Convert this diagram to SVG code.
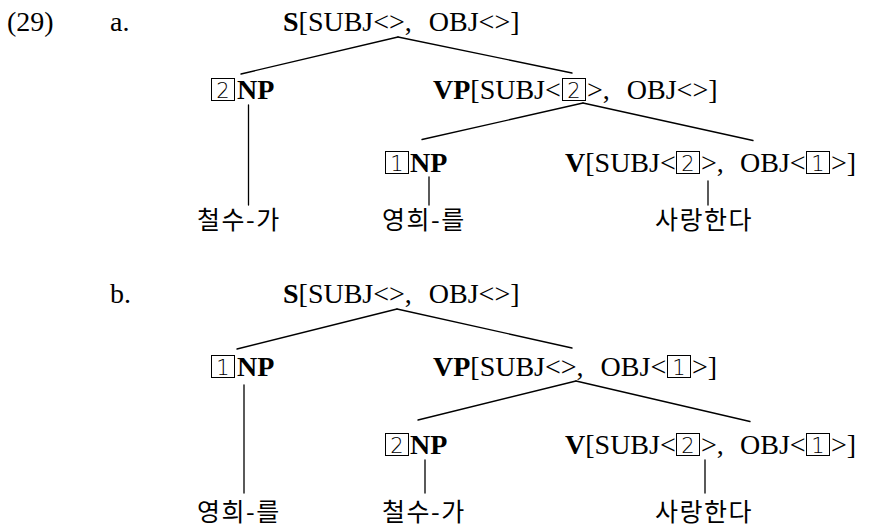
<svg xmlns="http://www.w3.org/2000/svg" width="869" height="529" viewBox="0 0 869 529">
<style>
.t{font-family:"Liberation Serif","Times New Roman",serif;font-size:28px;fill:#000}
.b{font-weight:bold}
.k{font-family:"Noto Sans CJK KR","Noto Sans CJK JP",sans-serif;font-size:25px;letter-spacing:1.5px;fill:#000}
.bx{fill:none;stroke:#000;stroke-width:1}
.d{font-family:"DejaVu Sans","Liberation Sans",sans-serif;font-weight:200;font-size:21px;text-anchor:middle;fill:#000}
.ln{stroke:#000;stroke-width:1.3;fill:none;stroke-linecap:round}
</style>
<rect width="869" height="529" fill="#fff"/>
<text class="t" x="7" y="31" font-size="27">(29)</text>
<text class="t" x="110" y="31">a.</text>
<text class="t" x="110" y="303">b.</text>

<g id="connectors">
  <line class="ln" x1="398" y1="37" x2="241" y2="74"/>
  <line class="ln" x1="398" y1="37" x2="572" y2="73"/>
  <line class="ln" x1="583" y1="103" x2="422" y2="139.5"/>
  <line class="ln" x1="583" y1="103" x2="753" y2="140.5"/>
  <line class="ln" x1="248.5" y1="105" x2="248.5" y2="205"/>
  <line class="ln" x1="429" y1="177" x2="429" y2="205"/>
  <line class="ln" x1="708" y1="181" x2="708" y2="205"/>
  <line class="ln" x1="397" y1="309" x2="237" y2="349"/>
  <line class="ln" x1="397" y1="309" x2="572" y2="348"/>
  <line class="ln" x1="576" y1="381" x2="418" y2="420"/>
  <line class="ln" x1="576" y1="381" x2="750" y2="421.5"/>
  <line class="ln" x1="244" y1="385" x2="244" y2="493"/>
  <line class="ln" x1="425" y1="460" x2="425" y2="493"/>
  <line class="ln" x1="705" y1="460" x2="705" y2="493"/>
</g>

<!-- tree a -->
<g id="a-S">
  <text class="t" x="283" y="31"><tspan class="b">S</tspan>[SUBJ&lt;&gt;,</text>
  <text class="t" x="428.8" y="31">OBJ&lt;&gt;]</text>
</g>
<g id="a-NP2">
  <rect class="bx" x="211.5" y="78.5" width="23" height="22"/>
  <text class="d" x="223" y="97.5">2</text>
  <text class="t b" x="237" y="99">NP</text>
</g>
<g id="a-VP">
  <text class="t" x="433" y="99"><tspan class="b">VP</tspan>[SUBJ&lt;</text>
  <rect class="bx" x="562.5" y="78.5" width="23" height="22"/>
  <text class="d" x="574" y="97.5">2</text>
  <text class="t" x="587" y="99">&gt;,</text>
  <text class="t" x="626.8" y="99">OBJ&lt;&gt;]</text>
</g>
<g id="a-NP1">
  <rect class="bx" x="385.5" y="151.5" width="23" height="22"/>
  <text class="d" x="397" y="170.5">1</text>
  <text class="t b" x="410" y="172">NP</text>
</g>
<g id="a-V">
  <text class="t" x="565" y="172"><tspan class="b">V</tspan>[SUBJ&lt;</text>
  <rect class="bx" x="676.5" y="151.5" width="23" height="22"/>
  <text class="d" x="688" y="170.5">2</text>
  <text class="t" x="701" y="172">&gt;,</text>
  <text class="t" x="740" y="172">OBJ&lt;</text>
  <rect class="bx" x="806.5" y="151.5" width="23" height="22"/>
  <text class="d" x="818" y="170.5">1</text>
  <text class="t" x="831" y="172">&gt;]</text>
</g>
<g id="a-w1"><text class="k" x="197" y="229">철수-가</text></g>
<g id="a-w2"><text class="k" x="382" y="229">영희-를</text></g>
<g id="a-w3"><text class="k" x="655" y="229">사랑한다</text></g>

<!-- tree b -->
<g id="b-S">
  <text class="t" x="283" y="303"><tspan class="b">S</tspan>[SUBJ&lt;&gt;,</text>
  <text class="t" x="428.8" y="303">OBJ&lt;&gt;]</text>
</g>
<g id="b-NP1">
  <rect class="bx" x="211.5" y="355.5" width="23" height="22"/>
  <text class="d" x="223" y="374.5">1</text>
  <text class="t b" x="237" y="376">NP</text>
</g>
<g id="b-VP">
  <text class="t" x="433" y="376"><tspan class="b">VP</tspan>[SUBJ&lt;&gt;,</text>
  <text class="t" x="600.6" y="376">OBJ&lt;</text>
  <rect class="bx" x="667.5" y="355.5" width="23" height="22"/>
  <text class="d" x="679" y="374.5">1</text>
  <text class="t" x="692" y="376">&gt;]</text>
</g>
<g id="b-NP2">
  <rect class="bx" x="385.5" y="433.5" width="23" height="22"/>
  <text class="d" x="397" y="452.5">2</text>
  <text class="t b" x="410" y="454">NP</text>
</g>
<g id="b-V">
  <text class="t" x="565" y="454"><tspan class="b">V</tspan>[SUBJ&lt;</text>
  <rect class="bx" x="676.5" y="433.5" width="23" height="22"/>
  <text class="d" x="688" y="452.5">2</text>
  <text class="t" x="701" y="454">&gt;,</text>
  <text class="t" x="740" y="454">OBJ&lt;</text>
  <rect class="bx" x="806.5" y="433.5" width="23" height="22"/>
  <text class="d" x="818" y="452.5">1</text>
  <text class="t" x="831" y="454">&gt;]</text>
</g>
<g id="b-w1"><text class="k" x="197" y="521">영희-를</text></g>
<g id="b-w2"><text class="k" x="382" y="521">철수-가</text></g>
<g id="b-w3"><text class="k" x="655" y="521">사랑한다</text></g>
</svg>
